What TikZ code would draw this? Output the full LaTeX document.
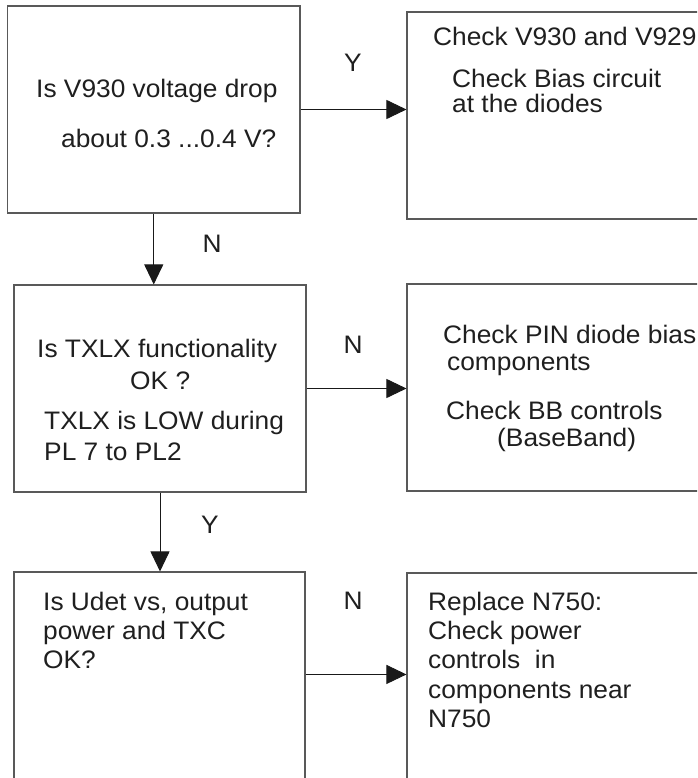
\documentclass[tikz,border=0pt]{standalone}
\usepackage{fontspec}
\setmainfont{Liberation Sans}[FakeStretch=1.04]
\usetikzlibrary{arrows.meta}
\begin{document}
\begin{tikzpicture}[x=1pt,y=-1pt,
  box/.style={draw=black!65, line width=1.1pt, rectangle, inner sep=0pt},
  txt/.style={anchor=base west, inner sep=0pt, font=\fontsize{25.3}{29}\selectfont, text=black!88},
  lbl/.style={anchor=base, inner sep=0pt, font=\fontsize{25.3}{29}\selectfont, text=black!88},
  arr/.style={draw=black!90, line width=0.9pt, -{Triangle[length=20pt,width=19pt]}}]
\useasboundingbox (0,0) rectangle (697,778);
\fill[white] (0,0) rectangle (697,778);
\clip (0,0) rectangle (697,778);
% boxes
\node[box, minimum width=292.5pt, minimum height=207pt] (b1) at (153.75,109.5) {};
\node[box, minimum width=313pt, minimum height=207pt] (b2) at (563.5,115.5) {};
\node[box, minimum width=292pt, minimum height=207pt] (b3) at (160,388.5) {};
\node[box, minimum width=313pt, minimum height=207pt] (b4) at (563.5,387.5) {};
\node[box, minimum width=291pt, minimum height=228pt] (b5) at (159.5,686) {};
\node[box, minimum width=313pt, minimum height=227pt] (b6) at (563.5,686.5) {};
% texts box 1
\node[txt] (t1a) at (36,98) {Is V930 voltage drop};
\node[txt] (t1b) at (61,148) {about 0.3 ...0.4 V?};
% box 2
\node[txt] (t2a) at (433,46) {Check V930 and V929};
\node[txt] (t2b) at (452,88) {Check Bias circuit};
\node[txt] (t2c) at (452,113) {at the diodes};
% box 3
\node[txt] (t3a) at (37,357) {Is TXLX functionality};
\node[txt] (t3b) at (130,389) {OK ?};
\node[txt] (t3c) at (44,429) {TXLX is LOW during};
\node[txt] (t3d) at (44,460) {PL 7 to PL2};
% box 4
\node[txt] (t4a) at (443,343) {Check PIN diode bias};
\node[txt] (t4b) at (447,370) {components};
\node[txt] (t4c) at (446,419) {Check BB controls};
\node[txt] (t4d) at (497,446) {(BaseBand)};
% box 5
\node[txt] (t5a) at (43,610) {Is Udet vs, output};
\node[txt] (t5b) at (43,639) {power and TXC};
\node[txt] (t5c) at (43,668) {OK?};
% box 6
\node[txt] (t6a) at (428,610) {Replace N750:};
\node[txt] (t6b) at (428,639) {Check power};
\node[txt] (t6c) at (428,668) {controls\ \ in};
\node[txt] (t6d) at (428,698) {components near};
\node[txt] (t6e) at (428,727) {N750};
% connectors
\draw[arr] (b1.east) -- (b1.east -| b2.west);
\draw[arr] (b1.south) -- (b1.south |- b3.north);
\draw[arr] (b3.east) -- (b3.east -| b4.west);
\draw[arr] (b3.south) -- (b3.south |- b5.north);
\coordinate (a5s) at ([yshift=-103pt]b5.north east);
\draw[arr] (a5s) -- (a5s -| b6.west);
% labels
\node[lbl] (l1) at (353,72) {Y};
\node[lbl] (l2) at (212,252) {N};
\node[lbl] (l3) at (353,353) {N};
\node[lbl] (l4) at (210,533) {Y};
\node[lbl] (l5) at (353,609) {N};
\end{tikzpicture}
\end{document}
